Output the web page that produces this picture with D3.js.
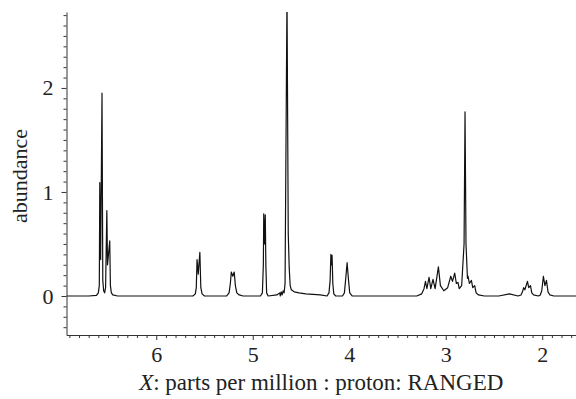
<!DOCTYPE html>
<html><head><meta charset="utf-8">
<script src="https://cdn.jsdelivr.net/npm/d3@7"></script>
<style>
html,body{margin:0;padding:0;background:#fff;}
svg text{font-family:"Liberation Serif","Tinos","DejaVu Serif","Times New Roman",Times,serif !important;fill:#222;}
</style></head>
<body><svg id="c" width="576" height="399"></svg>
<script>
// Spectrum trace vertices (ppm, abundance)
const ppm = [6.93,6.70,6.62,6.60,6.590,6.585,6.576,6.562,6.554,6.545,6.535,6.525,6.512,6.505,6.482,6.475,6.465,6.45,6.40,
  5.62,5.595,5.585,5.577,5.565,5.548,5.538,5.525,5.50,
  5.27,5.245,5.232,5.222,5.207,5.192,5.180,5.165,5.14,5.10,
  4.92,4.900,4.890,4.886,4.877,4.870,4.864,4.856,4.84,
  4.75,4.72,4.715,4.705,4.695,4.685,4.675,4.665,4.645,4.632,4.622,4.612,4.60,4.57,4.52,4.45,4.30,
  4.23,4.21,4.198,4.190,4.184,4.178,4.17,4.16,4.14,
  4.07,4.05,4.035,4.022,4.010,3.995,3.97,
  3.30,3.25,3.225,3.21,3.195,3.173,3.155,3.132,3.110,3.076,3.055,3.02,2.98,2.948,2.93,2.907,2.89,2.873,2.86,2.835,2.81,2.80,2.79,2.775,2.769,2.755,2.734,2.72,2.70,2.685,2.66,2.60,
  2.45,2.34,2.25,
  2.22,2.205,2.192,2.18,2.153,2.14,2.122,2.108,2.09,2.04,
  2.02,2.005,1.988,1.972,1.956,1.94,1.92,1.88,1.65];
const abundance = [0.0,0.0,0.005,0.03,0.10,1.09,0.35,1.95,0.15,0.05,0.03,0.08,0.82,0.30,0.53,0.10,0.03,0.01,0.0,
  0.0,0.02,0.08,0.35,0.21,0.42,0.08,0.02,0.0,
  0.0,0.03,0.12,0.23,0.19,0.23,0.10,0.03,0.01,0.0,
  0.0,0.03,0.30,0.79,0.50,0.78,0.30,0.03,0.0,
  0.01,0.03,0.0,0.04,0.01,0.05,0.03,0.12,2.90,0.60,0.27,0.10,0.06,0.04,0.03,0.02,0.01,
  0.0,0.03,0.15,0.40,0.30,0.39,0.12,0.02,0.0,
  0.0,0.03,0.18,0.32,0.18,0.03,0.0,
  0.0,0.02,0.07,0.14,0.07,0.18,0.07,0.16,0.07,0.28,0.10,0.05,0.08,0.19,0.14,0.22,0.12,0.13,0.07,0.10,0.50,1.77,0.50,0.17,0.19,0.12,0.15,0.08,0.10,0.03,0.01,0.0,
  0.0,0.02,0.0,
  0.01,0.04,0.08,0.06,0.14,0.08,0.10,0.03,0.01,0.0,
  0.01,0.05,0.19,0.10,0.15,0.04,0.01,0.0,0.0];
const xMajorTicks = [6,5,4,3,2];
const yMajorTicks = [0,1,2];
const xLabel = ": parts per million : proton: RANGED";
const yLabel = "abundance";

const svg = d3.select("#c");
const mL = 66.5, mR = 576, mT = 12, mB = 335;
const x = d3.scaleLinear().domain([6.93, 1.65]).range([mL, mR]);
const y = d3.scaleLinear().domain([-0.375, 2.73]).range([mB, mT]);

const xMinor = d3.range(17, 70).map(d => d / 10).filter(d => !xMajorTicks.includes(d));
const yMinor = d3.range(-3, 28).map(d => d / 10).filter(d => !yMajorTicks.includes(d));

svg.append("clipPath").attr("id","clip").append("rect")
  .attr("x", mL).attr("y", mT).attr("width", mR - mL).attr("height", mB - mT);

const data = ppm.map((p, i) => [p, abundance[i]]);
svg.append("path").datum(data)
  .attr("clip-path","url(#clip)")
  .attr("fill","none").attr("stroke","#111").attr("stroke-width",1.2)
  .attr("stroke-linejoin","round")
  .attr("d", d3.line().x(d => x(d[0])).y(d => y(d[1])));

// axes
const gx = svg.append("g").attr("transform",`translate(0,${mB})`);
gx.call(d3.axisBottom(x).tickValues(xMinor).tickSize(3).tickFormat("").tickSizeOuter(0));
gx.append("g").call(d3.axisBottom(x).tickValues(xMajorTicks).tickSize(5).tickFormat(d3.format("d")).tickPadding(6))
  .call(g => g.select(".domain").remove());
gx.selectAll("text").attr("font-size", 22).attr("fill","#222");

const gy = svg.append("g").attr("transform",`translate(${mL},0)`);
gy.call(d3.axisLeft(y).tickValues(yMinor).tickSize(3).tickFormat("").tickSizeOuter(0));
gy.append("g").call(d3.axisLeft(y).tickValues(yMajorTicks).tickSize(5).tickFormat(d3.format("d")).tickPadding(8))
  .call(g => g.select(".domain").remove());
gy.selectAll("text").attr("font-size", 22).attr("fill","#222");
svg.selectAll("g").attr("font-family", null);
svg.selectAll(".domain, .tick line").attr("stroke","#333");

const xl = svg.append("text").attr("x", (mL + mR) / 2).attr("y", 390)
  .attr("text-anchor","middle").attr("font-size", 23);
xl.append("tspan").attr("font-style","italic").text("X");
xl.append("tspan").text(xLabel);

svg.append("text").attr("transform","translate(27,176) rotate(-90)")
  .attr("text-anchor","middle").attr("font-size", 22).text(yLabel);
</script></body></html>
